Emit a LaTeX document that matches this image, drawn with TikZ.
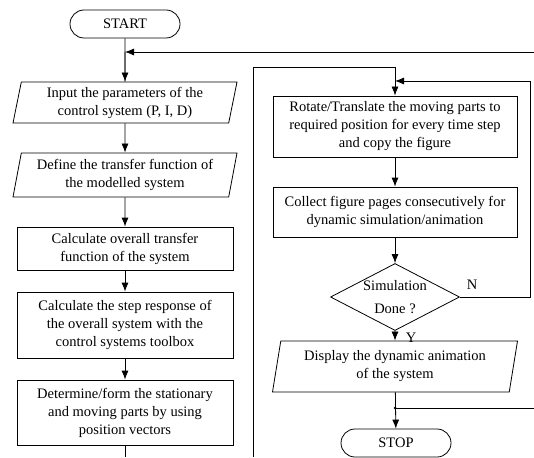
\documentclass[tikz,border=0pt]{standalone}
\usepackage{fontspec}
\setmainfont{Liberation Serif}
\usetikzlibrary{arrows.meta,shapes.geometric,shapes.misc}

\begin{document}
\begin{tikzpicture}[x=1pt,y=-1pt,>={Latex[length=9pt,width=7pt]},
  font=\fontsize{14.5}{18}\selectfont,line width=0.8pt,
  term/.style={draw,rounded rectangle,minimum width=110pt,minimum height=28pt,inner sep=0pt},
  io/.style={draw,trapezium,trapezium left angle=76,trapezium right angle=104,
    trapezium stretches body,align=center,inner sep=1pt},
  proc/.style={draw,rectangle,align=center,inner sep=1pt},
  cond/.style={draw,diamond,aspect=1.9,align=center,inner sep=0pt,minimum width=129pt,minimum height=67pt}]
\useasboundingbox (0,0) rectangle (534,457);
% left column
\node[term] (start) at (125,24) {START};
\node[io,minimum width=224pt,minimum height=41pt] (in) at (125,102.5) {Input the parameters of the\\control system (P, I, D)};
\node[io,minimum width=224pt,minimum height=44pt] (tf) at (125,175) {Define the transfer function of\\the modelled system};
\node[proc,minimum width=216pt,minimum height=43pt] (calc) at (125,248.5) {Calculate overall transfer\\function of the system};
\node[proc,minimum width=216pt,minimum height=66pt] (step) at (125,325) {Calculate the step response of\\the overall system with the\\control systems toolbox};
\node[proc,minimum width=216pt,minimum height=65pt] (parts) at (125,412.5) {Determine/form the stationary\\and moving parts by using\\position vectors};
% right column
\node[proc,minimum width=244pt,minimum height=61pt] (rot) at (395,126.5) {Rotate/Translate the moving parts to\\required position for every time step\\and copy the figure};
\node[proc,minimum width=244pt,minimum height=50pt] (pages) at (395,212) {Collect figure pages consecutively for\\dynamic simulation/animation};
\node[cond] (done) at (395,297) {Simulation\\[5pt]Done ?};
\node[io,minimum width=245pt,minimum height=51pt] (anim) at (395,366.5) {Display the dynamic animation\\of the system};
\node[term] (stop) at (396,443) {STOP};
\node (n) at (472,285) {N};
\node (y) at (411,338) {Y};
% connector ends
\coordinate (back) at (534,52);
\coordinate (lend) at (125,457);
\coordinate (rbot) at (253,457);
\coordinate (rtop) at (253,67);
\coordinate (loop) at (530,81);
\coordinate (jn) at (395,408);
\coordinate (out) at (534,408);

\draw (start) -- (in);
\draw[->] (back) -- (start.south |- back);
\draw[->] (start.south |- back) -- (in);
\draw[->] (in) -- (tf);
\draw[->] (tf) -- (calc);
\draw[->] (calc) -- (step);
\draw[->] (step) -- (parts);
\draw (parts) -- (lend);
\draw[->] (rbot) -- (rtop) -| (rot.north);
\draw[->] (rot) -- (pages);
\draw[->] (pages) -- (done);
\draw[->] (done.east) -| (loop) -- (loop -| rot.north);
\draw[->] (done) -- (anim);
\draw[->] (anim) -- (stop);
\draw (jn) -- (out);
\fill (jn) circle (1.5);
\end{tikzpicture}
\end{document}
